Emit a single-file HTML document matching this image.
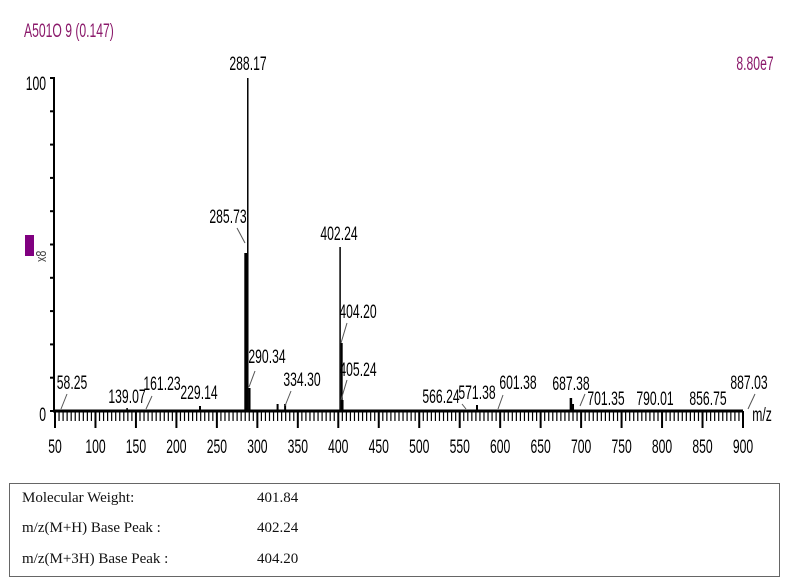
<!DOCTYPE html>
<html><head><meta charset="utf-8"><style>
body{margin:0;background:#fff;width:785px;height:583px;overflow:hidden;font-family:"Liberation Sans",sans-serif}
#t{position:absolute;left:9px;top:483px;width:771px;height:94px;border:1px solid #666;box-sizing:border-box;font-family:"Liberation Serif",serif;font-size:15px;color:#111}
#t div{position:absolute}
</style></head><body>
<svg id="s" width="785" height="583" style="position:absolute;left:0;top:0"></svg>
<div id="t">
<div style="left:12px;top:6px">Molecular Weight:</div><div style="left:247px;top:6px">401.84</div>
<div style="left:12px;top:36px">m/z(M+H) Base Peak :</div><div style="left:247px;top:36px">402.24</div>
<div style="left:12px;top:67px">m/z(M+3H) Base Peak :</div><div style="left:247px;top:67px">404.20</div>
</div>
<script>
var s='';
function X(m){return 55+(m-50)*0.8094;}
function T(x,y,str,c,anchor){c=c||'#000';anchor=anchor||'middle';
 s+='<text transform="translate('+x+','+(y+1)+') scale(0.64,1)" text-anchor="'+anchor+'" font-size="19" fill="'+c+'" font-family="Liberation Sans,sans-serif">'+str+'</text>';}
s+='<line x1="54" y1="77" x2="54" y2="412" stroke="#000" stroke-width="2"/>';
s+='<line x1="53" y1="411" x2="743" y2="411" stroke="#000" stroke-width="3"/>';
for(var i=0;i<=10;i++){var y=78+i*33.3;s+='<line x1="50" y1="'+y+'" x2="54" y2="'+y+'" stroke="#000" stroke-width="2"/>';}
for(var m=50;m<=900;m+=5){var x=X(m);var big=m%50==0;s+='<line x1="'+x+'" y1="411" x2="'+x+'" y2="'+(big?428:421)+'" stroke="#000" stroke-width="'+(big?2:1.2)+'"/>';
 if(big)T(x,452,m,'#000');}
T(46,89,'100','#000','end');T(46,420,'0','#000','end');
T(762,420,'m/z','#000','middle');
T(24,36,'A501O 9 (0.147)','#8b1a6b','start');
T(755,69,'8.80e7','#8b1a6b','middle');
s+='<rect x="25" y="235" width="9" height="21" fill="#800080"/>';
s+='<text transform="translate(46,262) rotate(-90) scale(0.72,1)" font-size="15" fill="#444">x8</text>';
function P(m,top,w){var x=X(m);s+='<line x1="'+x+'" y1="'+top+'" x2="'+x+'" y2="411" stroke="#000" stroke-width="'+(w||1.3)+'"/>';}
P(288.17,78,1.5);P(285.73,253,3);P(402.24,247,1.5);P(404.20,343,2);P(405.24,400,2);P(290.34,388,2);
P(334.3,404,2);P(325,404,2);P(229.14,406,2);P(687.38,398,2.5);P(690,404,2);P(571.38,405,2);P(139.07,408,1.5);
T(248,69,'288.17');T(228,222,'285.73');T(339,239,'402.24');T(358,317,'404.20');T(267,362,'290.34');
T(302,385,'334.30');T(358,375,'405.24');T(72,388,'58.25');T(127,402,'139.07');T(162,389,'161.23');
T(199,398,'229.14');T(441,402,'566.24');T(477,398,'571.38');T(518,388,'601.38');T(571,389,'687.38');
T(606,404,'701.35');T(655,404,'790.01');T(708,404,'856.75');T(749,388,'887.03');
function L(x1,y1,x2,y2){s+='<line x1="'+x1+'" y1="'+y1+'" x2="'+x2+'" y2="'+y2+'" stroke="#555" stroke-width="1"/>';}
L(237,228,245,243);L(255,371,249,387);L(291,391,285,406);L(347,323,341,343);L(347,380,341,400);
L(67,394,61,409);L(152,396,146,409);L(503,395,498,409);L(755,394,748,409);L(585,394,580,406);
L(462,404,466,409);
document.getElementById('s').innerHTML=s;
</script>
</body></html>
